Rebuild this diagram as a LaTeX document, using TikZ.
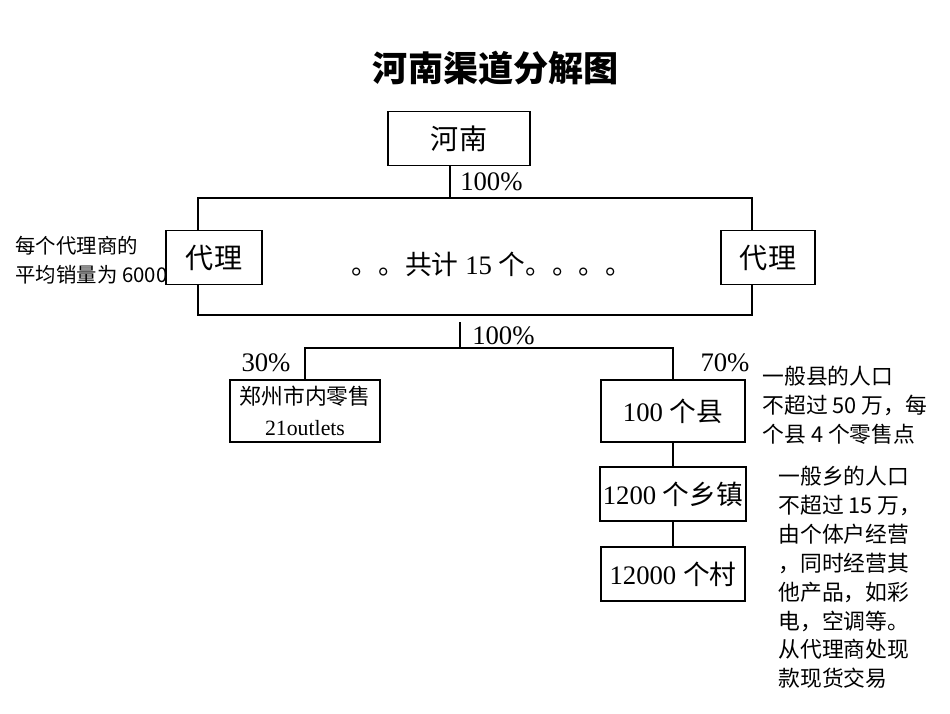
\documentclass[tikz,border=0pt]{standalone}
\usepackage{fontspec}
\setmainfont{Liberation Serif}
\newfontfamily\cjk{Noto Sans CJK SC}
\newcommand{\zh}[1]{{\cjk #1}}
\tikzset{
  box/.style={draw, thick, minimum height=1.35cm, inner sep=2pt},
  note/.style={align=left, inner sep=0pt, anchor=north west, font=\cjk\fontsize{15.5}{20.5}\selectfont},
  pct/.style={font=\fontsize{19}{19}\selectfont},
}
\begin{document}
\begin{tikzpicture}[x=0.025cm, y=-0.025cm, thick]
\useasboundingbox (0,0) rectangle (950,713);
% Title
    \node (title) at (496,68) {\cjk\bfseries\fontsize{25}{25}\selectfont 河南渠道分解图};
% Top
    \node[box, minimum width=3.55cm, font=\fontsize{20}{20}\selectfont] (henan) at (459,138.5) {\zh{河南}};
    \coordinate (frametop) at (450,198);
    \draw (henan.south -| frametop) -- (frametop);
    \node[pct, anchor=west] (p1) at (455,182) {100\%};
% Agent frame
    \node[note, font=\cjk\fontsize{14.5}{20.5}\selectfont] (avg) at (15,236) {每个代理商的\\平均销量为 6000};
    \draw (198,198) rectangle (752,315);
    \node[box, minimum width=2.4cm, fill=white, font=\fontsize{20}{20}\selectfont] (agentl) at (214,257.5) {\zh{代理}};
    \node[box, minimum width=2.35cm, fill=white, font=\fontsize{20}{20}\selectfont] (agentr) at (768,257.5) {\zh{代理}};
    \node[font=\fontsize{19}{19}\selectfont] (total) at (492,264) {\zh{。。共计} 15 \zh{个。。。。}};
% Split
    \coordinate (split) at (460,322);
    \coordinate (bar) at (460,348);
    \draw (split) -- (bar);
    \node[pct, anchor=west] (p2) at (467,336) {100\%};
    \node[box, minimum width=3.75cm, minimum height=1.55cm, font=\fontsize{15.5}{22}\selectfont, align=center] (zz) at (305,411) {\zh{郑州市内零售}\\21outlets};
    \node[box, minimum width=3.6cm, minimum height=1.55cm, font=\fontsize{19}{19}\selectfont] (xian) at (673,411) {100 \zh{个县}};
    \draw (zz.north) |- (bar) -| (xian.north);
    \node[pct] (p3) at (266,363) {30\%};
    \node[pct] (p4) at (725,363) {70\%};
    \node[note] (xnote) at (762,366) {一般县的人口\\不超过 50 万，每\\个县 4 个零售点};
% Chain
    \node[box, minimum width=3.6cm, font=\fontsize{19}{19}\selectfont] (xiang) at (673,494) {1200 \zh{个乡镇}};
    \node[box, minimum width=3.6cm, font=\fontsize{19}{19}\selectfont] (cun) at (673,574) {12000 \zh{个村}};
    \draw (xian) -- (xiang);
    \draw (xiang) -- (cun);
    \node[note] (cnote) at (778,466) {一般乡的人口\\不超过 15 万，\\由个体户经营\\，同时经营其\\他产品，如彩\\电，空调等。\\从代理商处现\\款现货交易};
\end{tikzpicture}
\end{document}
